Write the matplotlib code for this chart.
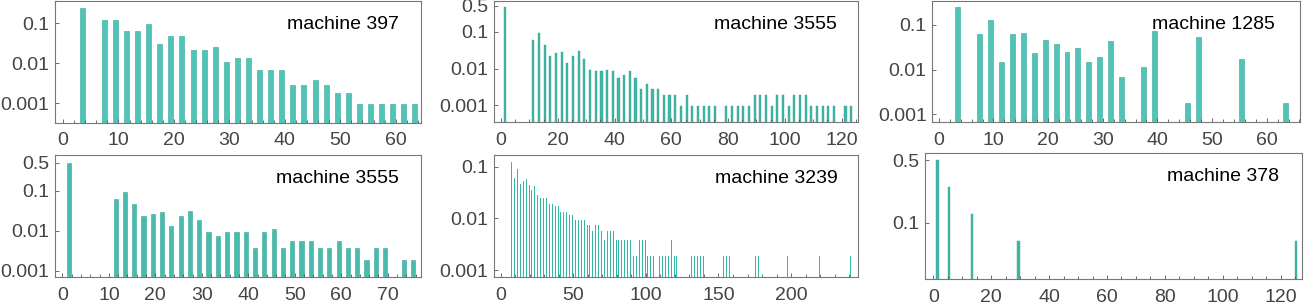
import matplotlib
matplotlib.use('Agg')
import matplotlib.pyplot as plt
from matplotlib.ticker import MultipleLocator, NullLocator

plt.rcParams['font.family'] = ['Liberation Sans', 'DejaVu Sans']

# machine 397
x397 = [3, 7, 9, 11, 13, 15, 17, 19, 21, 23, 25, 27, 29, 31, 33, 35, 37, 39, 41, 43,
        45, 47, 49, 51, 53, 55, 57, 59, 61, 63]
p397 = [0.245, 0.12, 0.12, 0.062, 0.062, 0.093, 0.031, 0.047, 0.047, 0.022,
        0.022, 0.026, 0.011, 0.0133, 0.0133, 0.0067, 0.0067, 0.0067, 0.00285, 0.00285,
        0.0038, 0.00285, 0.0018, 0.0018, 0.00095, 0.00095, 0.00095, 0.00095, 0.00095, 0.00095]

# machine 3555 (top)
x3555a = [1] + list(range(11, 76, 2)) + list(range(79, 118, 2)) + [121, 123]
p3555a = [0.47,
          0.058, 0.09, 0.043, 0.0216, 0.026, 0.0276, 0.0139, 0.0216, 0.029, 0.0179,
          0.009, 0.0085, 0.0085, 0.009, 0.0085, 0.0055, 0.0066, 0.0085, 0.0055, 0.0028,
          0.0038, 0.0028, 0.0028, 0.0019, 0.0019, 0.0019, 0.00095, 0.0019, 0.00095, 0.00095,
          0.00095, 0.00095, 0.00095,
          0.00095, 0.00095, 0.00095, 0.00095, 0.00095, 0.0019, 0.0019, 0.0019, 0.00095, 0.0019,
          0.0019, 0.00095, 0.0019, 0.0019, 0.0019, 0.00095, 0.00095, 0.00095, 0.00095, 0.00095,
          0.00095, 0.00095]

# machine 1285
x1285 = [3, 7, 9, 11, 13, 15, 17, 19, 21, 23, 25, 27, 29, 31, 33, 37, 39, 45, 47, 55, 63]
p1285 = [0.243, 0.061, 0.125, 0.0146, 0.061, 0.064, 0.023, 0.045, 0.038, 0.024,
         0.030, 0.0146, 0.019, 0.043, 0.0069, 0.0113, 0.071, 0.0018, 0.052, 0.017, 0.0018]

# machine 3555 (bottom)
x3555b = [1] + list(range(11, 70, 2)) + [73, 75]
p3555b = [0.5,
          0.062, 0.093, 0.046, 0.023, 0.026, 0.029, 0.013, 0.023, 0.031, 0.0185,
          0.0093, 0.0074, 0.0093, 0.0093, 0.0093, 0.0037, 0.0093, 0.011, 0.0037, 0.0055,
          0.0055, 0.0055, 0.0037, 0.0037, 0.0055, 0.0037, 0.0037, 0.00185, 0.0037, 0.0037,
          0.00185, 0.00185]

# machine 3239
x3239 = (list(range(7, 106, 2)) + list(range(109, 122, 2)) + [131, 133, 135, 137, 139]
         + [153, 155, 157, 175, 177, 197, 219, 241])
p3239 = [0.123, 0.06, 0.09, 0.046, 0.053, 0.058, 0.044, 0.035, 0.042, 0.028,
         0.0248, 0.0248, 0.0248, 0.0189, 0.0189, 0.0173, 0.0173, 0.0133, 0.0133, 0.0133,
         0.0116, 0.0116, 0.0093, 0.0093, 0.0093, 0.0093, 0.0074, 0.0074, 0.0057, 0.0074,
         0.0074, 0.0057, 0.0038, 0.0057, 0.0057, 0.0057, 0.0038, 0.0038, 0.0038, 0.0038,
         0.0038, 0.0038, 0.0019, 0.0019, 0.0038, 0.0038, 0.0038, 0.0019, 0.0019, 0.0019,
         0.0019, 0.0019, 0.0019, 0.0019, 0.0038, 0.0019, 0.0019,
         0.0019, 0.0019, 0.0019, 0.0019, 0.0019,
         0.0019, 0.0019, 0.0019, 0.0019, 0.0019, 0.0019, 0.0019, 0.0019]

# machine 378
x378 = [1, 5, 13, 29, 125]
p378 = [0.5, 0.25, 0.125, 0.0625, 0.0625]

W, H = 1306, 306
fig = plt.figure(figsize=(W / 100, H / 100), dpi=100)

fill = '#4fc4b7'
edge = '#37a496'
frame = '#777777'


def panel(box, x, p, title, xlim, ylim, xmaj, xmin, yt, ylab, tdx=16,
          bw=0.9, lw=0.4, fc=fill):
    l, t, r, b = box
    ax = fig.add_axes([l / W, 1 - b / H, (r - l) / W, (b - t) / H])
    ax.bar(x, p, width=bw, align='edge', color=fc, edgecolor=edge, linewidth=lw)
    ax.set_yscale('log')
    ax.set_xlim(xlim)
    ax.set_ylim(ylim)
    ax.set_yticks(yt, ylab)
    ax.yaxis.set_minor_locator(NullLocator())
    ax.xaxis.set_major_locator(MultipleLocator(xmaj))
    ax.xaxis.set_minor_locator(MultipleLocator(xmin))
    for s in ax.spines.values():
        s.set_color(frame)
        s.set_linewidth(0.8)
    ax.tick_params(which='both', direction='in', color='#555555', width=0.6,
                   labelsize=14, labelcolor='#444444')
    ax.tick_params(which='major', length=3)
    ax.tick_params(which='minor', length=2)
    ax.tick_params(axis='x', pad=7)
    ax.tick_params(axis='y', pad=4)
    ax.annotate(title, xy=(1, 1), xycoords='axes fraction', xytext=(-tdx, -20),
                textcoords='offset points', ha='right', va='baseline',
                fontsize=14, color='black')
    return ax


y3 = [0.001, 0.01, 0.1]
l3 = ['0.001', '0.01', '0.1']
y4 = [0.001, 0.01, 0.1, 0.5]
l4 = ['0.001', '0.01', '0.1', '0.5']

panel((55, 1, 420.7, 122.7), x397, p397, 'machine 397', (-1.45, 64.5),
      (0.00033, 0.356), 10, 2, y3, l3)
panel((494, 1, 858, 122), x3555a, p3555a, 'machine 3555', (-2.5, 125.8),
      (0.000354, 0.68), 20, 5, y4, l4, tdx=15, bw=0.75, lw=0.3, fc='#41b5a6')
panel((932.3, 1, 1300, 122), x1285, p1285, 'machine 1285', (-1.2, 66.1),
      (0.000675, 0.338), 10, 2, y3, l3, tdx=18)
panel((55, 155, 420.7, 277), x3555b, p3555b, 'machine 3555', (-1.6, 77.1),
      (0.000695, 0.78), 10, 2, y4, l4, fc='#47bcae')
panel((494, 155, 858.3, 277), x3239, p3239, 'machine 3239', (-4.8, 246.4),
      (0.000733, 0.168), 50, 10, y3, l3, tdx=15, bw=0.7, lw=0, fc='#34b8a6')
panel((925, 153.3, 1301.7, 279), x378, p378, 'machine 378', (-2.9, 127.3),
      (0.0236, 0.595), 20, 5, [0.1, 0.5], ['0.1', '0.5'], bw=0.8, lw=0.3, fc='#41b5a6')

fig.savefig('out.png', dpi=100)
